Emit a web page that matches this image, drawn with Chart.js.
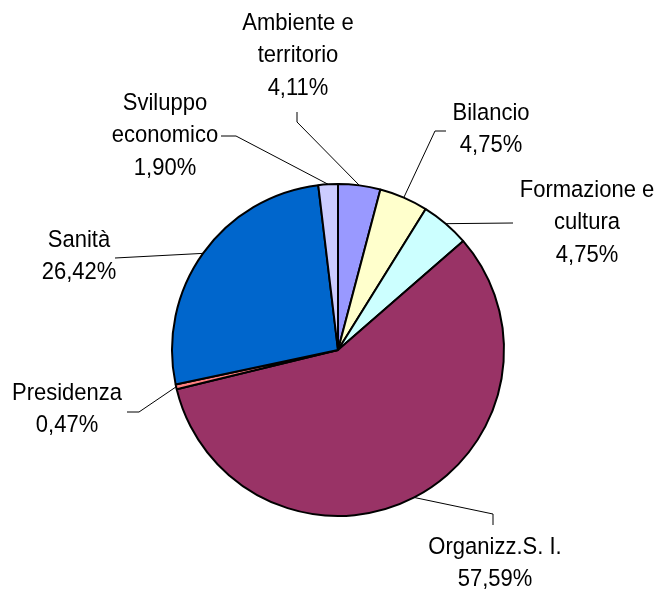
<!DOCTYPE html>
<html>
<head>
<meta charset="utf-8">
<script src="https://cdn.jsdelivr.net/npm/chart.js@4/dist/chart.umd.min.js"></script>
<style>
  html, body { margin: 0; padding: 0; background: #fff; }
  #wrap { width: 661px; height: 590px; position: relative; }
</style>
</head>
<body>
<div id="wrap"><canvas id="pie"></canvas></div>
<script>
// Spesa per area (quota percentuale)
const categories = ['Ambiente e territorio', 'Bilancio', 'Formazione e cultura', 'Organizz.S. I.', 'Presidenza', 'Sanità', 'Sviluppo economico'];
const shares = [4.11, 4.75, 4.75, 57.59, 0.47, 26.42, 1.90];
const labelLines = [['Ambiente e', 'territorio'], ['Bilancio'], ['Formazione e', 'cultura'], ['Organizz.S. I.'], ['Presidenza'], ['Sanità'], ['Sviluppo', 'economico']];
const sliceColors = ['#9999FF', '#FFFFCC', '#CCFFFF', '#993366', '#FF8080', '#0066CC', '#CCCCFF'];

// Label placement: text centre x, first line centre y, leader bend points (from slice edge outwards)
const labelLayout = [
  { x: 298, y: 23,  leader: [[297, 122], [297, 112]] },
  { x: 491, y: 113, leader: [[435, 131], [446, 131]] },
  { x: 587, y: 190, leader: [[513, 223]] },
  { x: 495, y: 547, leader: [[493, 514], [493, 525]] },
  { x: 67,  y: 393, leader: [[139, 412], [127, 412]] },
  { x: 79,  y: 240, leader: [[115, 258]] },
  { x: 165, y: 103, leader: [[236, 136], [221, 136]] }
];

const fmtPct = v => v.toFixed(2).replace('.', ',') + '%';
const TEXT_STRETCH = 1.08;

const calloutLabels = {
  id: 'calloutLabels',
  afterDatasetsDraw(chart) {
    const ctx = chart.ctx;
    const meta = chart.getDatasetMeta(0);
    ctx.save();
    meta.data.forEach((arc, i) => {
      const lay = labelLayout[i];
      const mid = (arc.startAngle + arc.endAngle) / 2;
      const px = arc.x + Math.cos(mid) * arc.outerRadius;
      const py = arc.y + Math.sin(mid) * arc.outerRadius;
      ctx.beginPath();
      ctx.strokeStyle = '#000';
      ctx.lineWidth = 1;
      ctx.moveTo(px, py);
      lay.leader.forEach(p => ctx.lineTo(p[0], p[1]));
      ctx.stroke();

      const lines = labelLines[i].concat([fmtPct(shares[i])]);
      ctx.save();
      ctx.scale(1, TEXT_STRETCH);
      ctx.fillStyle = '#000';
      ctx.font = '22px "Liberation Sans", Arial, sans-serif';
      ctx.textAlign = 'center';
      ctx.textBaseline = 'middle';
      lines.forEach((t, k) => ctx.fillText(t, lay.x, (lay.y + k * 32.5) / TEXT_STRETCH));
      ctx.restore();
    });
    ctx.restore();
  }
};

new Chart(document.getElementById('pie'), {
  type: 'pie',
  data: {
    labels: categories,
    datasets: [{
      data: shares,
      backgroundColor: sliceColors,
      borderColor: '#000',
      borderWidth: 2,
      radius: 166
    }]
  },
  options: {
    responsive: true,
    maintainAspectRatio: false,
    animation: false,
    events: [],
    layout: { padding: { left: 100, right: 85, top: 130, bottom: 20 } },
    plugins: {
      legend: { display: false },
      tooltip: { enabled: false }
    }
  },
  plugins: [calloutLabels]
});
</script>
</body>
</html>
